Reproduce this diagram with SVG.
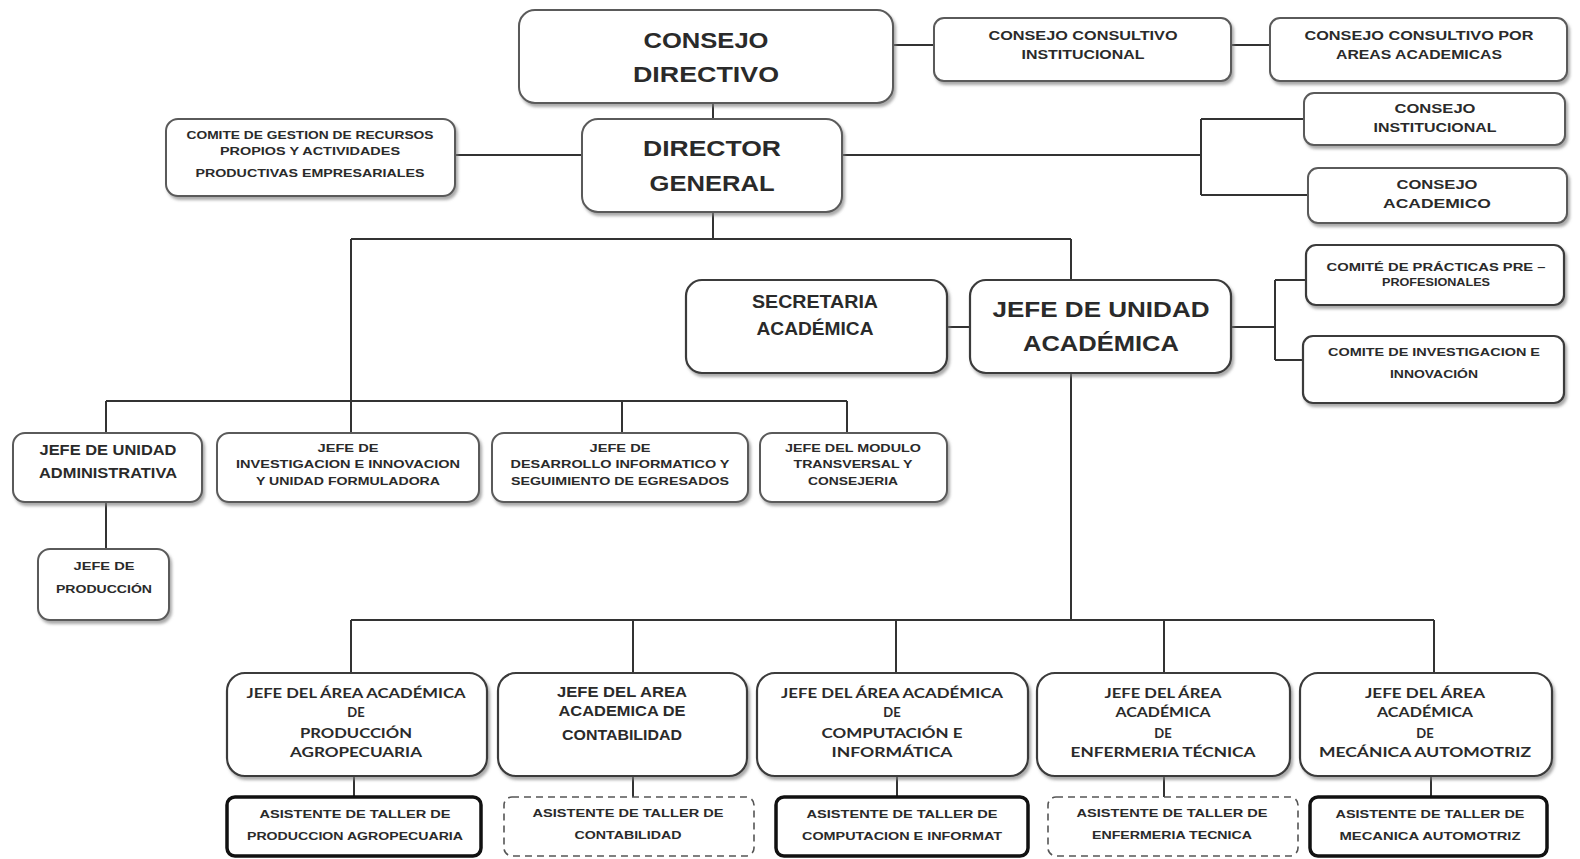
<svg xmlns="http://www.w3.org/2000/svg" width="1580" height="859" viewBox="0 0 1580 859">
<defs>
<filter id="sh" x="-10%" y="-10%" width="125%" height="135%">
<feDropShadow dx="2" dy="3" stdDeviation="1.8" flood-color="#7a7a7a" flood-opacity="0.65"/>
</filter>
<style>
.bx{fill:#fff;stroke:#5a5a5a;stroke-width:2;filter:url(#sh)}
.bk{fill:#fff;stroke:#3a3a3a;stroke-width:2.2;filter:url(#sh)}
.th{fill:#fff;stroke:#111;stroke-width:3.5}
.ds{fill:#fff;stroke:#555;stroke-width:1.6;stroke-dasharray:7 5}
.t{font-family:"Liberation Sans",Arial,sans-serif;font-weight:bold;fill:#2a2a2a;text-anchor:middle}
.c{font-family:Lato,"Open Sans","Liberation Sans",sans-serif;font-weight:bold;fill:#2a2a2a;text-anchor:middle}
.ln{fill:none;stroke:#333;stroke-width:2}
</style>
</defs>
<rect width="1580" height="859" fill="#fff"/>
<g id="connectors" class="ln">
<path d="M713 103V119"/>
<path d="M893 45H934"/>
<path d="M1231 45H1270"/>
<path d="M455 155H582"/>
<path d="M842 155H1201M1201 119V195M1201 119H1304M1201 195H1308"/>
<path d="M713 212V239M351 239H1071"/>
<path d="M351 239V401M106 401H847"/>
<path d="M106 401V433M351 401V433M622 401V433M847 401V433"/>
<path d="M1071 239V280"/>
<path d="M947 327H970"/>
<path d="M1231 327H1275M1275 280V360M1275 280H1306M1275 360H1303"/>
<path d="M106 502V549"/>
<path d="M1071 373V620M351 620H1434"/>
<path d="M351 620V673M633 620V673M896 620V673M1164 620V673M1434 620V673"/>
<path d="M354 776V797M633 776V797M897 776V797M1164 776V797M1431 776V797"/>
</g>
<g id="consejo-directivo">
<rect class="bx" x="519" y="10" width="374" height="93" rx="16"/>
<text class="t" x="706" y="48" font-size="22" textLength="125" lengthAdjust="spacingAndGlyphs">CONSEJO</text>
<text class="t" x="706" y="82" font-size="22" textLength="146" lengthAdjust="spacingAndGlyphs">DIRECTIVO</text>
</g>
<g id="consejo-consultivo-institucional">
<rect class="bx" x="934" y="18" width="297" height="63" rx="10"/>
<text class="t" x="1083" y="40" font-size="12" textLength="189" lengthAdjust="spacingAndGlyphs">CONSEJO CONSULTIVO</text>
<text class="t" x="1083" y="59" font-size="12" textLength="123" lengthAdjust="spacingAndGlyphs">INSTITUCIONAL</text>
</g>
<g id="consejo-consultivo-areas">
<rect class="bx" x="1270" y="18" width="297" height="63" rx="10"/>
<text class="t" x="1419" y="40" font-size="12" textLength="229" lengthAdjust="spacingAndGlyphs">CONSEJO CONSULTIVO POR</text>
<text class="t" x="1419" y="59" font-size="12" textLength="166" lengthAdjust="spacingAndGlyphs">AREAS ACADEMICAS</text>
</g>
<g id="director-general">
<rect class="bx" x="582" y="119" width="260" height="93" rx="16"/>
<text class="t" x="712" y="156" font-size="22" textLength="138" lengthAdjust="spacingAndGlyphs">DIRECTOR</text>
<text class="t" x="712" y="191" font-size="22" textLength="125" lengthAdjust="spacingAndGlyphs">GENERAL</text>
</g>
<g id="comite-gestion">
<rect class="bx" x="166" y="119" width="289" height="77" rx="12"/>
<text class="t" x="310" y="139" font-size="11" textLength="247" lengthAdjust="spacingAndGlyphs">COMITE DE GESTION DE RECURSOS</text>
<text class="t" x="310" y="155" font-size="11" textLength="180" lengthAdjust="spacingAndGlyphs">PROPIOS Y ACTIVIDADES</text>
<text class="t" x="310" y="177" font-size="11" textLength="229" lengthAdjust="spacingAndGlyphs">PRODUCTIVAS EMPRESARIALES</text>
</g>
<g id="consejo-institucional">
<rect class="bx" x="1304" y="93" width="261" height="52" rx="10"/>
<text class="t" x="1435" y="113" font-size="12" textLength="81" lengthAdjust="spacingAndGlyphs">CONSEJO</text>
<text class="t" x="1435" y="132" font-size="12" textLength="123" lengthAdjust="spacingAndGlyphs">INSTITUCIONAL</text>
</g>
<g id="consejo-academico">
<rect class="bx" x="1308" y="168" width="259" height="55" rx="10"/>
<text class="t" x="1437" y="189" font-size="12" textLength="81" lengthAdjust="spacingAndGlyphs">CONSEJO</text>
<text class="t" x="1437" y="208" font-size="12" textLength="108" lengthAdjust="spacingAndGlyphs">ACADEMICO</text>
</g>
<g id="secretaria-academica">
<rect class="bk" x="686" y="280" width="261" height="93" rx="16"/>
<text class="t" x="815" y="308" font-size="19" textLength="126" lengthAdjust="spacingAndGlyphs">SECRETARIA</text>
<text class="t" x="815" y="335" font-size="19" textLength="117" lengthAdjust="spacingAndGlyphs">ACADÉMICA</text>
</g>
<g id="jefe-unidad-academica">
<rect class="bk" x="970" y="280" width="261" height="93" rx="16"/>
<text class="t" x="1101" y="317" font-size="22" textLength="217" lengthAdjust="spacingAndGlyphs">JEFE DE UNIDAD</text>
<text class="t" x="1101" y="351" font-size="22" textLength="156" lengthAdjust="spacingAndGlyphs">ACADÉMICA</text>
</g>
<g id="comite-practicas">
<rect class="bk" x="1306" y="245" width="258" height="60" rx="10"/>
<text class="t" x="1436" y="271" font-size="11" textLength="219" lengthAdjust="spacingAndGlyphs">COMITÉ DE PRÁCTICAS PRE –</text>
<text class="t" x="1436" y="286" font-size="11" textLength="108" lengthAdjust="spacingAndGlyphs">PROFESIONALES</text>
</g>
<g id="comite-investigacion">
<rect class="bk" x="1303" y="336" width="261" height="67" rx="10"/>
<text class="t" x="1434" y="356" font-size="11" textLength="212" lengthAdjust="spacingAndGlyphs">COMITE DE INVESTIGACION E</text>
<text class="t" x="1434" y="378" font-size="11" textLength="88" lengthAdjust="spacingAndGlyphs">INNOVACIÓN</text>
</g>
<g id="jefe-unidad-administrativa">
<rect class="bx" x="13" y="433" width="189" height="69" rx="12"/>
<text class="t" x="108" y="455" font-size="14" textLength="137" lengthAdjust="spacingAndGlyphs">JEFE DE UNIDAD</text>
<text class="t" x="108" y="478" font-size="14" textLength="138" lengthAdjust="spacingAndGlyphs">ADMINISTRATIVA</text>
</g>
<g id="jefe-investigacion">
<rect class="bx" x="217" y="433" width="262" height="69" rx="12"/>
<text class="t" x="348" y="452" font-size="11.5" textLength="61" lengthAdjust="spacingAndGlyphs">JEFE DE</text>
<text class="t" x="348" y="468" font-size="11.5" textLength="224" lengthAdjust="spacingAndGlyphs">INVESTIGACION E INNOVACION</text>
<text class="t" x="348" y="485" font-size="11.5" textLength="184" lengthAdjust="spacingAndGlyphs">Y UNIDAD FORMULADORA</text>
</g>
<g id="jefe-desarrollo">
<rect class="bx" x="492" y="433" width="256" height="69" rx="12"/>
<text class="t" x="620" y="452" font-size="11.5" textLength="61" lengthAdjust="spacingAndGlyphs">JEFE DE</text>
<text class="t" x="620" y="468" font-size="11.5" textLength="219" lengthAdjust="spacingAndGlyphs">DESARROLLO INFORMATICO Y</text>
<text class="t" x="620" y="485" font-size="11.5" textLength="218" lengthAdjust="spacingAndGlyphs">SEGUIMIENTO DE EGRESADOS</text>
</g>
<g id="jefe-modulo">
<rect class="bx" x="760" y="433" width="187" height="69" rx="12"/>
<text class="t" x="853" y="452" font-size="11.5" textLength="136" lengthAdjust="spacingAndGlyphs">JEFE DEL MODULO</text>
<text class="t" x="853" y="468" font-size="11.5" textLength="119" lengthAdjust="spacingAndGlyphs">TRANSVERSAL Y</text>
<text class="t" x="853" y="485" font-size="11.5" textLength="90" lengthAdjust="spacingAndGlyphs">CONSEJERIA</text>
</g>
<g id="jefe-produccion">
<rect class="bx" x="38" y="549" width="131" height="71" rx="12"/>
<text class="t" x="104" y="570" font-size="11.5" textLength="61" lengthAdjust="spacingAndGlyphs">JEFE DE</text>
<text class="t" x="104" y="593" font-size="11.5" textLength="96" lengthAdjust="spacingAndGlyphs">PRODUCCIÓN</text>
</g>
<g id="area-agropecuaria">
<rect class="bk" x="227" y="673" width="260" height="103" rx="18"/>
<text class="c" x="356" y="698" font-size="13" textLength="219" lengthAdjust="spacingAndGlyphs">JEFE DEL ÁREA ACADÉMICA</text>
<text class="c" x="356" y="717" font-size="13">DE</text>
<text class="c" x="356" y="738" font-size="13" textLength="112" lengthAdjust="spacingAndGlyphs">PRODUCCIÓN</text>
<text class="c" x="356" y="757" font-size="13" textLength="132" lengthAdjust="spacingAndGlyphs">AGROPECUARIA</text>
</g>
<g id="area-contabilidad">
<rect class="bk" x="498" y="673" width="249" height="103" rx="18"/>
<text class="t" x="622" y="697" font-size="14" textLength="130" lengthAdjust="spacingAndGlyphs">JEFE DEL AREA</text>
<text class="t" x="622" y="716" font-size="14" textLength="127" lengthAdjust="spacingAndGlyphs">ACADEMICA DE</text>
<text class="t" x="622" y="740" font-size="14" textLength="120" lengthAdjust="spacingAndGlyphs">CONTABILIDAD</text>
</g>
<g id="area-computacion">
<rect class="bk" x="757" y="673" width="271" height="103" rx="18"/>
<text class="c" x="892" y="698" font-size="13" textLength="222" lengthAdjust="spacingAndGlyphs">JEFE DEL ÁREA ACADÉMICA</text>
<text class="c" x="892" y="717" font-size="13">DE</text>
<text class="c" x="892" y="738" font-size="13" textLength="141" lengthAdjust="spacingAndGlyphs">COMPUTACIÓN E</text>
<text class="c" x="892" y="757" font-size="13" textLength="121" lengthAdjust="spacingAndGlyphs">INFORMÁTICA</text>
</g>
<g id="area-enfermeria">
<rect class="bk" x="1037" y="673" width="253" height="103" rx="18"/>
<text class="c" x="1163" y="698" font-size="13" textLength="117" lengthAdjust="spacingAndGlyphs">JEFE DEL ÁREA</text>
<text class="c" x="1163" y="717" font-size="13" textLength="95" lengthAdjust="spacingAndGlyphs">ACADÉMICA</text>
<text class="c" x="1163" y="738" font-size="13">DE</text>
<text class="c" x="1163" y="757" font-size="13" textLength="185" lengthAdjust="spacingAndGlyphs">ENFERMERIA TÉCNICA</text>
</g>
<g id="area-mecanica">
<rect class="bk" x="1300" y="673" width="252" height="103" rx="18"/>
<text class="c" x="1425" y="698" font-size="13" textLength="120" lengthAdjust="spacingAndGlyphs">JEFE DEL ÁREA</text>
<text class="c" x="1425" y="717" font-size="13" textLength="96" lengthAdjust="spacingAndGlyphs">ACADÉMICA</text>
<text class="c" x="1425" y="738" font-size="13">DE</text>
<text class="c" x="1425" y="757" font-size="13" textLength="212" lengthAdjust="spacingAndGlyphs">MECÁNICA AUTOMOTRIZ</text>
</g>
<g id="asistente-agropecuaria">
<rect class="th" x="227" y="797" width="254" height="59" rx="8"/>
<text class="t" x="355" y="818" font-size="11.5" textLength="191" lengthAdjust="spacingAndGlyphs">ASISTENTE DE TALLER DE</text>
<text class="t" x="355" y="840" font-size="11.5" textLength="216" lengthAdjust="spacingAndGlyphs">PRODUCCION AGROPECUARIA</text>
</g>
<g id="asistente-contabilidad">
<rect class="ds" x="504" y="797" width="250" height="59" rx="8"/>
<text class="t" x="628" y="817" font-size="11.5" textLength="191" lengthAdjust="spacingAndGlyphs">ASISTENTE DE TALLER DE</text>
<text class="t" x="628" y="839" font-size="11.5" textLength="107" lengthAdjust="spacingAndGlyphs">CONTABILIDAD</text>
</g>
<g id="asistente-computacion">
<rect class="th" x="776" y="797" width="252" height="59" rx="8"/>
<text class="t" x="902" y="818" font-size="11.5" textLength="191" lengthAdjust="spacingAndGlyphs">ASISTENTE DE TALLER DE</text>
<text class="t" x="902" y="840" font-size="11.5" textLength="200" lengthAdjust="spacingAndGlyphs">COMPUTACION E INFORMAT</text>
</g>
<g id="asistente-enfermeria">
<rect class="ds" x="1048" y="797" width="250" height="59" rx="8"/>
<text class="t" x="1172" y="817" font-size="11.5" textLength="191" lengthAdjust="spacingAndGlyphs">ASISTENTE DE TALLER DE</text>
<text class="t" x="1172" y="839" font-size="11.5" textLength="160" lengthAdjust="spacingAndGlyphs">ENFERMERIA TECNICA</text>
</g>
<g id="asistente-mecanica">
<rect class="th" x="1310" y="797" width="237" height="59" rx="8"/>
<text class="t" x="1430" y="818" font-size="11.5" textLength="189" lengthAdjust="spacingAndGlyphs">ASISTENTE DE TALLER DE</text>
<text class="t" x="1430" y="840" font-size="11.5" textLength="181" lengthAdjust="spacingAndGlyphs">MECANICA AUTOMOTRIZ</text>
</g>
</svg>
